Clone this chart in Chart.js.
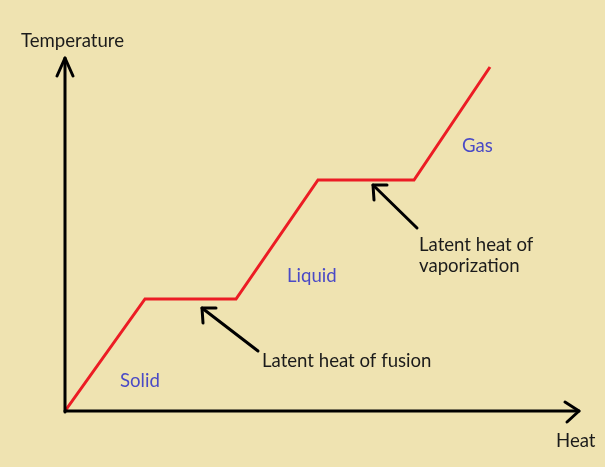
<!DOCTYPE html>
<html>
<head>
<meta charset="utf-8">
<script src="https://cdn.jsdelivr.net/npm/chart.js@4/dist/chart.umd.min.js"></script>
<style>
  html, body { margin: 0; padding: 0; background: #efe3b1; }
  #c { display: block; }
</style>
</head>
<body>
<canvas id="c" width="605" height="467"></canvas>
<script>
// Data (arbitrary units)
const heat = [0, 80, 171, 253, 349, 425];
const temperature = [0, 112, 112, 231, 231, 344];
const axisTitles = { x: 'Heat', y: 'Temperature' };
const phaseLabels = ['Solid', 'Liquid', 'Gas'];
const phaseLabelPos = [[55, 24], [222, 129], [397, 259]];
const latentLabels = [['Latent heat of fusion'], ['Latent heat of', 'vaporization']];
const latentLabelPos = [[197, 44], [354, 160]];
const latentArrows = [[[193, 60], [137, 103]], [[352, 183], [308, 226]]];

const BG = '#efe3b1';
const FONT = '18.6px Lato, "DejaVu Sans", sans-serif';

const decor = {
  id: 'decor',
  beforeDraw(chart) {
    const c = chart.ctx;
    c.save();
    c.fillStyle = BG;
    c.fillRect(0, 0, chart.width, chart.height);
    c.restore();
  },
  afterDatasetsDraw(chart) {
    const c = chart.ctx;
    const xs = chart.scales.x, ys = chart.scales.y;
    const X = v => xs.getPixelForValue(v), Y = v => ys.getPixelForValue(v);
    const ox = X(0), oy = Y(0);
    c.save();
    c.strokeStyle = '#000';
    c.lineWidth = 3;
    c.lineCap = 'round';
    c.lineJoin = 'round';
    // y axis
    const yTop = chart.chartArea.top - 2;
    c.beginPath(); c.moveTo(ox, oy + 1); c.lineTo(ox, yTop); c.stroke();
    c.beginPath(); c.moveTo(ox - 8, yTop + 18); c.lineTo(ox, yTop); c.lineTo(ox + 8, yTop + 18); c.stroke();
    // x axis
    const xEnd = chart.chartArea.right - 1;
    c.beginPath(); c.moveTo(ox, oy); c.lineTo(xEnd, oy); c.stroke();
    c.beginPath(); c.moveTo(xEnd - 14, oy - 9); c.lineTo(xEnd, oy); c.lineTo(xEnd - 12, oy + 11); c.stroke();
    // latent arrows
    latentArrows.forEach(([tail, tip]) => {
      const tx = X(tail[0]), ty = Y(tail[1]), px = X(tip[0]), py = Y(tip[1]);
      c.beginPath(); c.moveTo(tx, ty); c.lineTo(px, py); c.stroke();
      c.beginPath(); c.moveTo(px + 14, py); c.lineTo(px, py); c.lineTo(px + 1, py + 15); c.stroke();
    });
    // text
    c.font = FONT;
    c.textBaseline = 'alphabetic';
    c.fillStyle = '#1b1b1b';
    c.textAlign = 'left';
    c.fillText(axisTitles.y, 21, 47);
    c.fillText(axisTitles.x, 556, 447);
    latentLabels.forEach((lines, i) => {
      const [lx, ly] = latentLabelPos[i];
      lines.forEach((t, j) => c.fillText(t, X(lx), Y(ly) + j * 21));
    });
    c.fillStyle = '#4a4ac6';
    phaseLabels.forEach((t, i) => {
      const [lx, ly] = phaseLabelPos[i];
      c.fillText(t, X(lx), Y(ly));
    });
    c.restore();
  }
};

new Chart(document.getElementById('c'), {
  type: 'line',
  data: {
    datasets: [{
      data: heat.map((h, i) => ({ x: h, y: temperature[i] })),
      borderColor: '#ec1c24',
      borderWidth: 3,
      pointRadius: 0,
      tension: 0,
      fill: false
    }]
  },
  options: {
    responsive: false,
    animation: false,
    events: [],
    layout: { padding: { left: 65, right: 25, top: 60, bottom: 56 } },
    plugins: { legend: { display: false }, tooltip: { enabled: false } },
    scales: {
      x: { type: 'linear', display: false, min: 0, max: 515 },
      y: { type: 'linear', display: false, min: 0, max: 351 }
    }
  },
  plugins: [decor]
});
</script>
</body>
</html>
